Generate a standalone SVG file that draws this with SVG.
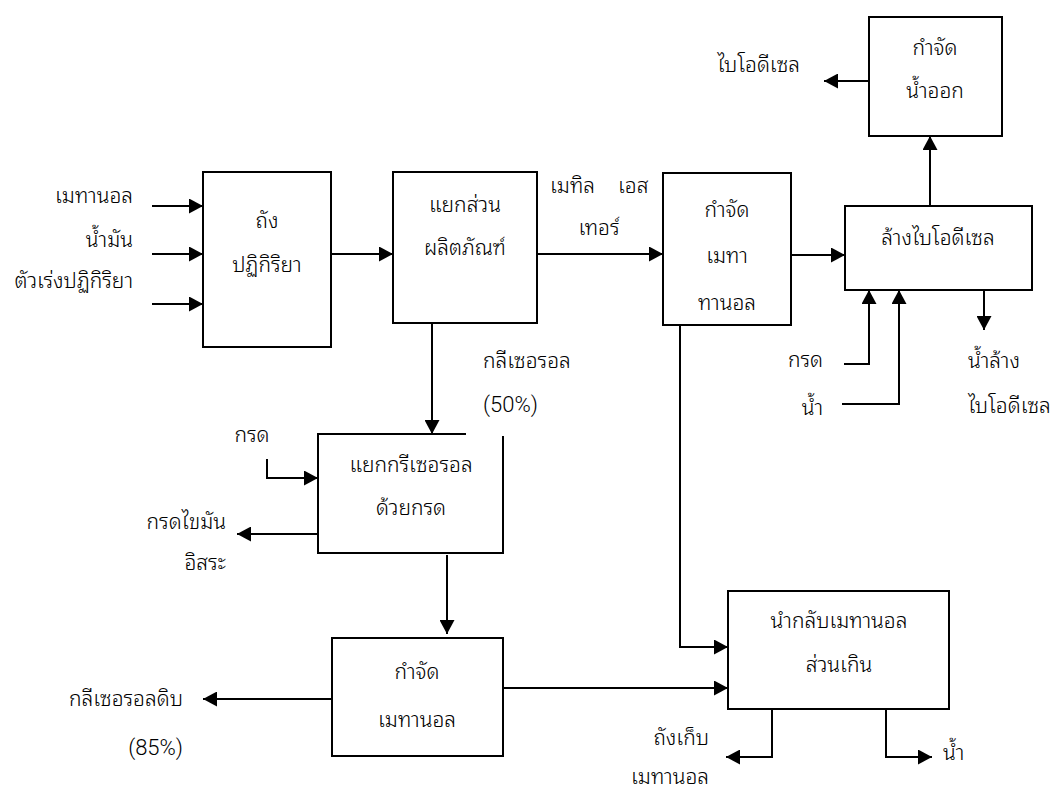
<svg xmlns="http://www.w3.org/2000/svg" width="1055" height="790" viewBox="0 0 1055 790">
<defs>
<marker id="arr" markerUnits="userSpaceOnUse" markerWidth="15" markerHeight="15" refX="14" refY="7.5" orient="auto">
<path d="M0,0 L14,7.5 L0,15 z" fill="#000"/>
</marker>
<style>
.box{fill:#fff;stroke:#000;stroke-width:2}
.open{fill:none;stroke:#000;stroke-width:2}
.ar{fill:none;stroke:#000;stroke-width:2;marker-end:url(#arr)}
text{font-family:"Noto Sans Thai Looped","Liberation Sans",sans-serif;font-size:21px;font-weight:300;fill:#000}
.lat{font-family:Roboto,"Liberation Sans",sans-serif;font-size:22px;font-weight:300}
.c{text-anchor:middle}
.e{text-anchor:end}
</style>
</defs>
<rect width="1055" height="790" fill="#fff"/>
<g id="connectors">
<path class="ar" d="M152,206 H203"/>
<path class="ar" d="M152,254 H203"/>
<path class="ar" d="M152,304 H203"/>
<path class="ar" d="M331,254 H393"/>
<path class="ar" d="M537,254 H663"/>
<path class="ar" d="M791,255 H845"/>
<path class="ar" d="M930,206 V136"/>
<path class="ar" d="M869,81 H824"/>
<path class="ar" d="M844,364 H869 V290"/>
<path class="ar" d="M842,404 H899 V290"/>
<path class="ar" d="M984,290 V330"/>
<path class="ar" d="M432,323 V434"/>
<path class="ar" d="M267,459 V478 H318"/>
<path class="ar" d="M318,534 H237"/>
<path class="ar" d="M447,555 V634"/>
<path class="ar" d="M332,699 H203"/>
<path class="ar" d="M503,688 H728"/>
<path class="ar" d="M680,325 V647 H728"/>
<path class="ar" d="M772,709 V757 H726"/>
<path class="ar" d="M886,709 V757 H932"/>
</g>
<g id="reactor">
<rect class="box" x="203" y="172" width="128" height="175"/>
<text class="c" x="267" y="228">ถัง</text>
<text class="c" x="267" y="272">ปฏิกิริยา</text>
</g>
<g id="separator">
<rect class="box" x="393" y="172" width="144" height="151"/>
<text class="c" x="465" y="212">แยกส่วน</text>
<text class="c" x="465" y="255">ผลิตภัณฑ์</text>
</g>
<g id="methanol-removal-1">
<rect class="box" x="663" y="173" width="128" height="152"/>
<text class="c" x="727" y="217">กำจัด</text>
<text class="c" x="727" y="263">เมทา</text>
<text class="c" x="727" y="310">ทานอล</text>
</g>
<g id="washing">
<rect class="box" x="845" y="206" width="187" height="84"/>
<text class="c" x="938" y="245">ล้างไบโอดีเซล</text>
</g>
<g id="drying">
<rect class="box" x="869" y="17" width="133" height="119"/>
<text class="c" x="935" y="55">กำจัด</text>
<text class="c" x="935" y="98">น้ำออก</text>
</g>
<g id="glycerol-separation">
<path class="open" d="M466,434 H318 V553 H503 V436"/>
<text class="c" x="411" y="472">แยกกรีเซอรอล</text>
<text class="c" x="411" y="515">ด้วยกรด</text>
</g>
<g id="methanol-removal-2">
<rect class="box" x="332" y="638" width="171" height="118"/>
<text class="c" x="417" y="679">กำจัด</text>
<text class="c" x="417" y="727">เมทานอล</text>
</g>
<g id="methanol-recovery">
<rect class="box" x="728" y="591" width="221" height="118"/>
<text class="c" x="839" y="628">นำกลับเมทานอล</text>
<text class="c" x="839" y="672">ส่วนเกิน</text>
</g>
<g id="labels">
<text class="e" x="133" y="203">เมทานอล</text>
<text class="e" x="133" y="247">น้ำมัน</text>
<text class="e" x="133" y="288">ตัวเร่งปฏิกิริยา</text>
<text x="550" y="193"><tspan x="550">เมทิล</tspan><tspan x="618">เอส</tspan></text>
<text class="c" x="599" y="235">เทอร์</text>
<text x="483" y="368">กลีเซอรอล</text>
<text class="lat" x="483" y="412">(50%)</text>
<text class="e" x="800" y="72">ไบโอดีเซล</text>
<text class="e" x="823" y="367">กรด</text>
<text class="e" x="823" y="415">น้ำ</text>
<text x="968" y="368">น้ำล้าง</text>
<text x="968" y="413">ไบโอดีเซล</text>
<text class="c" x="252" y="442">กรด</text>
<text class="e" x="226" y="529">กรดไขมัน</text>
<text class="e" x="226" y="570">อิสระ</text>
<text class="e" x="183" y="706">กลีเซอรอลดิบ</text>
<text class="lat e" x="183" y="755">(85%)</text>
<text class="e" x="709" y="745">ถังเก็บ</text>
<text class="e" x="709" y="784">เมทานอล</text>
<text x="943" y="760">น้ำ</text>
</g>
</svg>
